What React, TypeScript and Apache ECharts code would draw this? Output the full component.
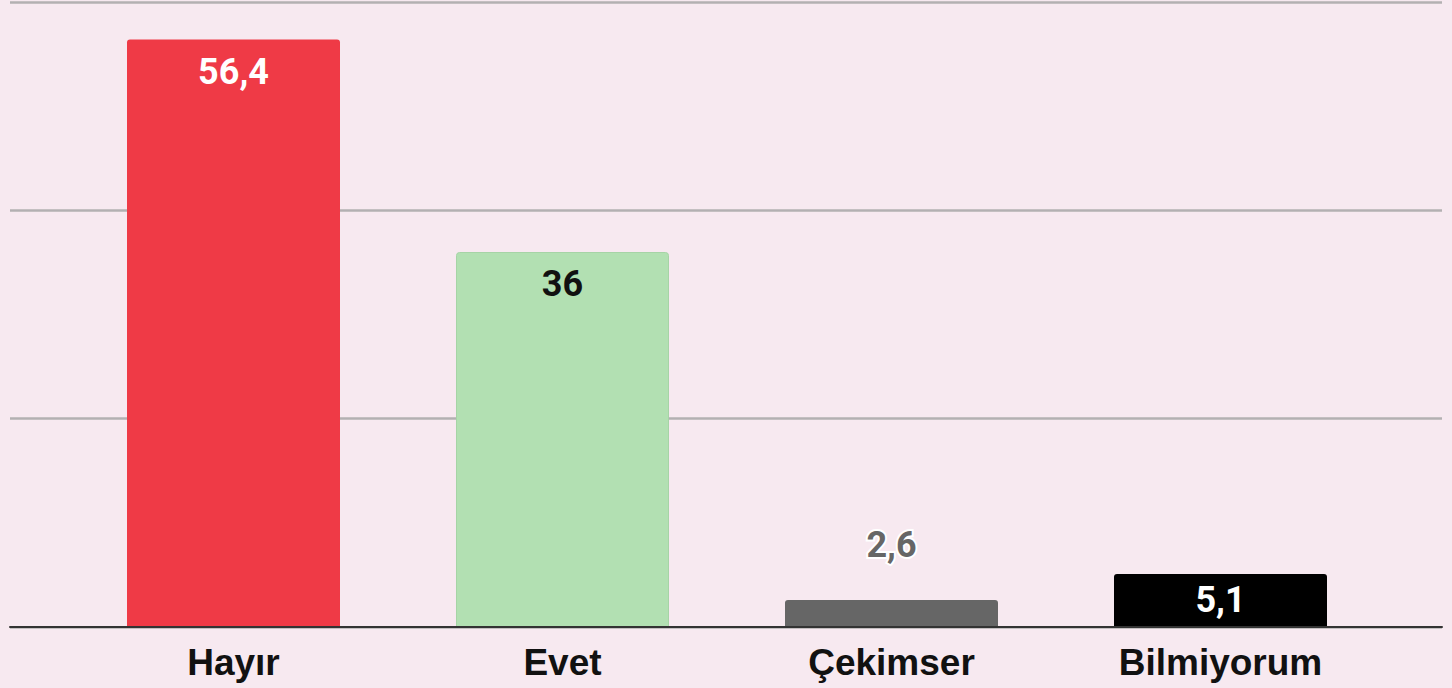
import React, { useEffect, useRef } from "react";
import * as echarts from "echarts";

const categories = ["Hayır", "Evet", "Çekimser", "Bilmiyorum"];
const values = [56.4, 36, 2.6, 5.1];
const barColors = ["#ef3a46", "#b2e0b2", "#666666", "#000000"];
const yTicks = [0, 20, 40, 60];

const fmt = (v: number) => String(v).replace(".", ",");

export default function App() {
  const ref = useRef<HTMLDivElement>(null);
  useEffect(() => {
    document.body.style.margin = "0";
    const chart = echarts.init(ref.current!, null, { renderer: "svg" });
    const labelStyles = [
      { position: "insideTop", distance: 14, color: "#ffffff" },
      { position: "insideTop", distance: 14, color: "#111111" },
      { position: "top", distance: 37, color: "#666666", textBorderColor: "#ffffff", textBorderWidth: 4 },
      { position: "insideTop", distance: 8, color: "#ffffff" },
    ];
    chart.setOption({
      animation: false,
      backgroundColor: "#f7e9f0",
      grid: [
        { left: 69, right: 67, top: 2, bottom: 61 },
        { left: 10, right: 10, top: 2, bottom: 61 },
      ],
      xAxis: [
        {
          type: "category",
          gridIndex: 0,
          data: categories,
          axisLine: { show: false },
          axisTick: { show: false },
          axisLabel: {
            color: "#111111",
            fontFamily: "Liberation Sans, Arial, sans-serif",
            fontWeight: "bold",
            fontSize: 37,
            margin: 17,
          },
        },
        {
          type: "value",
          gridIndex: 1,
          min: 0,
          max: 1,
          axisLine: { show: true, lineStyle: { color: "#333333", width: 2 } },
          axisTick: { show: false },
          axisLabel: { show: false },
          splitLine: { show: false },
          z: 10,
        },
      ],
      yAxis: [
        {
          type: "value",
          gridIndex: 0,
          min: yTicks[0],
          max: yTicks[yTicks.length - 1],
          interval: 20,
          axisLine: { show: false },
          axisTick: { show: false },
          axisLabel: { show: false },
          splitLine: { show: false },
        },
        {
          type: "value",
          gridIndex: 1,
          min: yTicks[0],
          max: yTicks[yTicks.length - 1],
          interval: 20,
          axisLine: { show: false },
          axisTick: { show: false },
          axisLabel: { show: false },
          splitLine: { show: true, lineStyle: { color: "#b3b0b2", width: 2.5 } },
        },
      ],
      series: [
        {
          type: "bar",
          xAxisIndex: 0,
          yAxisIndex: 0,
          barWidth: 213,
          z: 5,
          data: values.map((v, i) => ({
            value: v,
            itemStyle: {
              color: barColors[i],
              borderRadius: [3, 3, 0, 0],
              borderColor: i === 1 ? "#a6d4a6" : barColors[i],
              borderWidth: i === 1 ? 1 : 0,
            },
            label: {
              show: true,
              fontFamily: "Roboto, sans-serif",
              fontWeight: "bold",
              fontSize: 36,
              formatter: () => fmt(v),
              ...labelStyles[i],
            },
          })),
        },
      ],
    });
    return () => chart.dispose();
  }, []);
  return <div ref={ref} style={{ position: "fixed", left: 0, top: 0, width: 1452, height: 688 }} />;
}
